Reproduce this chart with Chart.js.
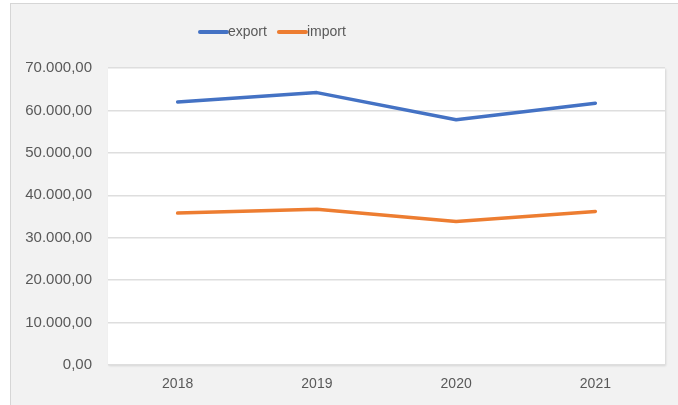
<!DOCTYPE html>
<html>
<head>
<meta charset="utf-8">
<script src="https://cdn.jsdelivr.net/npm/chart.js@4"></script>
<style>
  html, body { margin: 0; padding: 0; background: #ffffff; }
  #frame {
    position: absolute; left: 10px; top: 3px;
    width: 667px; height: 401px;
    background: #f2f2f2;
    border-left: 1px solid #d6d6d6; border-top: 1px solid #d6d6d6;
  }
  canvas { display: block; }
</style>
</head>
<body>
<div id="frame"><canvas id="c" width="667" height="401"></canvas></div>
<script>
// Years on the category axis
const years = ['2018', '2019', '2020', '2021'];
// Yearly totals per series
const exportValues = [62000, 64200, 57800, 61700];
const importValues = [35800, 36700, 33800, 36200];
// Value axis ticks
const yTickValues = [0, 10000, 20000, 30000, 40000, 50000, 60000, 70000];

const seriesNames = ['export', 'import'];
const seriesColors = ['#4472c4', '#ed7d31'];
const labelColor = '#595959';
const fontFamily = "'Liberation Sans', Arial, sans-serif";

// 70000 -> "70.000,00"
function formatNumber(v) {
  const whole = Math.round(v).toString().replace(/\B(?=(\d{3})+(?!\d))/g, '.');
  return whole + ',00';
}

// White plot area behind the grid
const plotBackground = {
  id: 'plotBackground',
  beforeDraw(chart) {
    const { ctx, chartArea: a } = chart;
    ctx.save();
    ctx.shadowColor = 'rgba(0,0,0,0.12)';
    ctx.shadowBlur = 2;
    ctx.shadowOffsetX = 1;
    ctx.shadowOffsetY = 1;
    ctx.fillStyle = '#ffffff';
    ctx.fillRect(a.left, a.top, a.right - a.left, a.bottom - a.top);
    ctx.restore();
  }
};

// Line-sample legend with the name right after each sample
const lineLegend = {
  id: 'lineLegend',
  afterDraw(chart) {
    const { ctx } = chart;
    ctx.save();
    ctx.font = '14px ' + fontFamily;
    ctx.textBaseline = 'middle';
    let x = 187;
    const y = 28;
    chart.data.datasets.forEach((ds) => {
      ctx.strokeStyle = ds.borderColor;
      ctx.lineWidth = 4;
      ctx.lineCap = 'round';
      ctx.beginPath();
      ctx.moveTo(x + 2, y);
      ctx.lineTo(x + 29, y);
      ctx.stroke();
      x += 30;
      ctx.fillStyle = labelColor;
      ctx.textAlign = 'left';
      ctx.fillText(ds.label, x, y);
      x += ctx.measureText(ds.label).width + 10;
    });
    ctx.restore();
  }
};

new Chart(document.getElementById('c'), {
  type: 'line',
  data: {
    labels: years,
    datasets: [
      { label: seriesNames[0], data: exportValues, borderColor: seriesColors[0], backgroundColor: seriesColors[0] },
      { label: seriesNames[1], data: importValues, borderColor: seriesColors[1], backgroundColor: seriesColors[1] }
    ]
  },
  options: {
    responsive: false,
    animation: false,
    layout: { padding: { left: 0, right: 13, top: 64, bottom: 0 } },
    elements: {
      line: { borderWidth: 3.5, tension: 0, borderCapStyle: 'round', borderJoinStyle: 'round' },
      point: { radius: 0, hoverRadius: 0 }
    },
    plugins: {
      legend: { display: false },
      tooltip: { enabled: false }
    },
    scales: {
      x: {
        offset: true,
        grid: { display: false, drawTicks: false },
        border: { display: false },
        ticks: { color: labelColor, font: { family: fontFamily, size: 14 }, padding: 11 },
        afterFit(scale) { scale.height = 40; }
      },
      y: {
        min: 0,
        max: 70000,
        afterBuildTicks(scale) { scale.ticks = yTickValues.map(v => ({ value: v })); },
        grid: { color: '#dedede', lineWidth: 1.5, drawTicks: false },
        border: { display: false },
        ticks: {
          color: labelColor,
          font: { family: fontFamily, size: 15 },
          padding: 16,
          callback: (v) => formatNumber(v)
        },
        afterFit(scale) { scale.width = 97; }
      }
    }
  },
  plugins: [plotBackground, lineLegend]
});
</script>
</body>
</html>
